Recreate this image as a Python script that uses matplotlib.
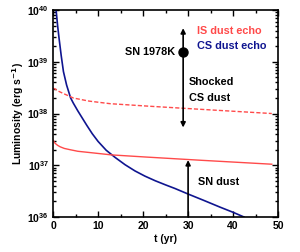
import numpy as np
import matplotlib
matplotlib.use("Agg")
import matplotlib.pyplot as plt
from matplotlib.ticker import LogLocator, MultipleLocator, NullFormatter

plt.rcParams['font.family'] = ['Liberation Sans', 'DejaVu Sans']
plt.rcParams['font.weight'] = 'bold'
plt.rcParams['mathtext.default'] = 'bf'

# CS dust echo (blue), log10 of luminosity
cs_t = [0.67, 1.0, 1.33, 1.8, 2.3, 3.0, 3.9, 4.5, 5.5, 6.5, 7.5, 8.7, 10.0, 11.8, 13.8,
        16.0, 18.2, 20.4, 22.7, 25.0, 27.1, 30.1, 33.5, 37.1, 40.0, 42.4]
cs_logL = [40.0, 39.7, 39.45, 39.12, 38.81, 38.55, 38.3, 38.2, 38.05, 37.91, 37.77, 37.61,
           37.46, 37.29, 37.15, 37.01, 36.89, 36.79, 36.7, 36.62, 36.55, 36.44, 36.32,
           36.19, 36.09, 36.0]

# IS dust echo, upper (dashed) and lower (solid)
is_hi_t = [0.0, 0.44, 1.0, 2.3, 4.5, 8.0, 12.7, 21.6, 35.0, 48.6]
is_hi_logL = [38.49, 38.475, 38.44, 38.386, 38.30, 38.24, 38.19, 38.14, 38.07, 38.0]
is_lo_t = [0.0, 0.44, 1.0, 1.56, 2.5, 3.8, 5.5, 8.2, 13.0, 20.4, 32.7, 48.6]
is_lo_logL = [37.483, 37.425, 37.385, 37.357, 37.325, 37.30, 37.27, 37.245, 37.2, 37.16, 37.097, 37.02]

# SN 1978K point and arrows
sn_t, sn_logL = 28.9, 39.19
shock_t, shock_top, shock_bot = 28.9, 39.65, 37.73
sndust_t, sndust_bot, sndust_top = 30.0, 36.0, 37.1

red = '#ff4a4a'
blue = '#0f1590'

fig = plt.figure(figsize=(3.0, 2.52), dpi=100)
ax = fig.add_axes([0.177, 0.139, 0.75, 0.821])

ax.plot(cs_t, 10**np.array(cs_logL), color=blue, lw=1.2)
ax.plot(is_hi_t, 10**np.array(is_hi_logL), color=red, lw=1.0, ls=(0, (3, 1.5)))
ax.plot(is_lo_t, 10**np.array(is_lo_logL), color=red, lw=1.0)

ax.annotate('', xy=(shock_t, 10**shock_top), xytext=(shock_t, 10**shock_bot),
            arrowprops=dict(arrowstyle='<|-|>', color='black', lw=1.2,
                            mutation_scale=7, shrinkA=0, shrinkB=0))
ax.annotate('', xy=(sndust_t, 10**sndust_top), xytext=(sndust_t, 10**sndust_bot),
            arrowprops=dict(arrowstyle='-|>', color='black', lw=1.2,
                            mutation_scale=7, shrinkA=0, shrinkB=0))
ax.plot([sn_t], [10**sn_logL], 'o', color='black', ms=6.5)

fs = 7.8
ax.text(27.1, 10**sn_logL, 'SN 1978K', ha='right', va='center', fontsize=fs)
ax.text(31.9, 10**39.59, 'IS dust echo', color=red, fontsize=fs, va='center')
ax.text(31.9, 10**39.31, 'CS dust echo', color=blue, fontsize=fs, va='center')
ax.text(30.1, 10**38.61, 'Shocked', fontsize=fs, va='center')
ax.text(30.1, 10**38.30, 'CS dust', fontsize=fs, va='center')
ax.text(32.1, 10**36.68, 'SN dust', fontsize=fs, va='center')

ax.set_yscale('log')
ax.set_xlim(0, 50)
ax.set_ylim(1e36, 1e40)
ax.xaxis.set_major_locator(MultipleLocator(10))
ax.xaxis.set_minor_locator(MultipleLocator(5))
ax.yaxis.set_major_locator(LogLocator(base=10, numticks=10))
ax.yaxis.set_minor_locator(LogLocator(base=10, subs=np.arange(2, 10), numticks=10))
ax.yaxis.set_minor_formatter(NullFormatter())
ax.tick_params(which='both', direction='in', top=True, right=True, labelsize=7.5, width=1)
ax.tick_params(which='major', length=4, pad=3)
ax.tick_params(which='minor', length=2)
for s in ax.spines.values():
    s.set_linewidth(1.2)

ax.set_xlabel('t (yr)', fontsize=7.5, fontweight='bold', labelpad=2)
ax.set_ylabel('Luminosity (erg s$^{-1}$)', fontsize=7.5, fontweight='bold', labelpad=1)

fig.savefig('out.png', dpi=100)
